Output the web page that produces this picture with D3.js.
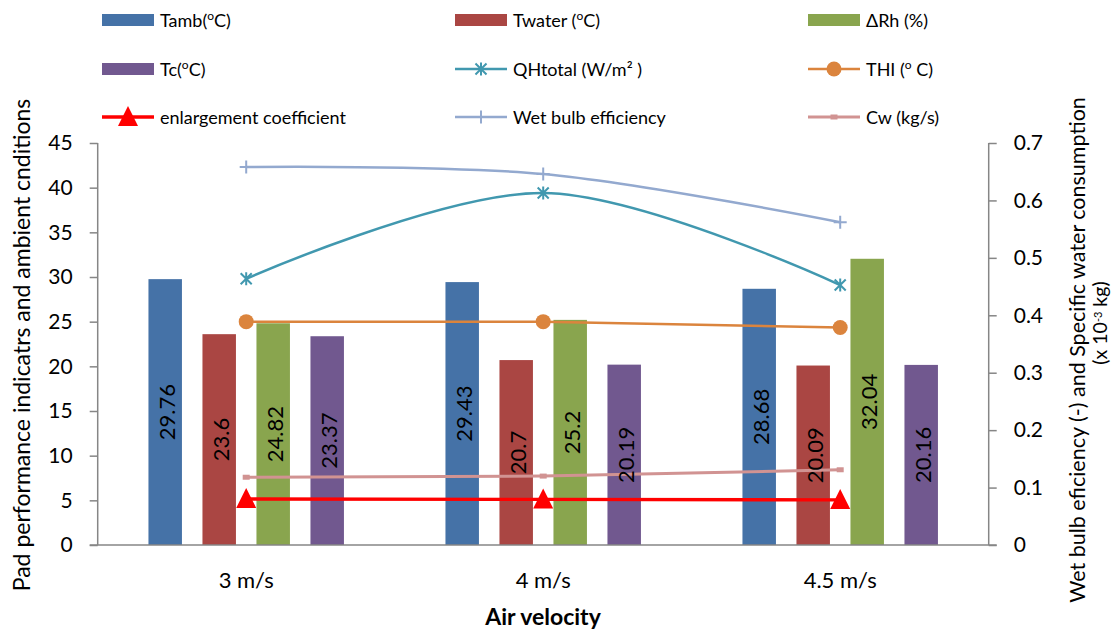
<!DOCTYPE html>
<html>
<head>
<meta charset="utf-8">
<script src="https://cdn.jsdelivr.net/npm/d3@7"></script>
<style>
  html, body { margin: 0; padding: 0; background: #ffffff; }
  svg { display: block; font-family: Lato, "Open Sans", sans-serif; }
</style>
</head>
<body>
<svg id="chart" width="1114" height="632"></svg>
<script>
// Categories and tick values
const categories = ["3 m/s", "4 m/s", "4.5 m/s"];
const leftTicks = [0, 5, 10, 15, 20, 25, 30, 35, 40, 45];
const rightTicks = [0, 0.1, 0.2, 0.3, 0.4, 0.5, 0.6, 0.7];

// Bar series (left axis)
const tamb = [29.76, 29.43, 28.68];
const twater = [23.6, 20.7, 20.09];
const deltaRh = [24.82, 25.2, 32.04];
const tc = [23.37, 20.19, 20.16];

// Line series on the left axis
const qhTotal = [29.8, 39.4, 29.1];
const thi = [25.0, 25.0, 24.35];
const enlargement = [5.15, 5.1, 5.05];

// Line series on the right axis
const wetBulb = [0.658, 0.646, 0.562];
const cw = [0.118, 0.120, 0.131];

const svg = d3.select("#chart");
const plot = { left: 97.7, right: 988.7, top: 143, bottom: 545 };

const x = d3.scaleBand().domain(categories).range([plot.left, plot.right]).padding(0);
const yL = d3.scaleLinear().domain([0, 45]).range([plot.bottom, plot.top]);
const yR = d3.scaleLinear().domain([0, 0.7]).range([plot.bottom, plot.top]);

const barSeries = [
  { key: "tamb", values: tamb, color: "#4572A7" },
  { key: "twater", values: twater, color: "#AA4643" },
  { key: "drh", values: deltaRh, color: "#89A54E" },
  { key: "tc", values: tc, color: "#71588F" }
];
const xs = d3.scaleBand().domain(barSeries.map(d => d.key)).range([-108, 108])
  .paddingInner(0.38).paddingOuter(0.19);

const cx = c => x(c) + x.bandwidth() / 2;

// Axes
const axisColor = "#868686";
const gL = svg.append("g").attr("transform", `translate(${plot.left},0)`)
  .call(d3.axisLeft(yL).tickValues(leftTicks).tickSize(8).tickPadding(17).tickFormat(d3.format("d")));
const gR = svg.append("g").attr("transform", `translate(${plot.right},0)`)
  .call(d3.axisRight(yR).tickValues(rightTicks).tickSize(8).tickPadding(17).tickFormat(d => d === 0 ? "0" : d3.format(".1f")(d)));
[gL, gR].forEach(g => {
  g.select(".domain").remove();
  g.selectAll(".tick line").attr("stroke", axisColor).attr("stroke-width", 1.5);
  g.selectAll(".tick text").attr("font-size", 21).attr("fill", "#000").attr("font-family", "Lato, sans-serif");
});
svg.append("line").attr("x1", plot.left).attr("x2", plot.left).attr("y1", plot.top).attr("y2", plot.bottom)
  .attr("stroke", axisColor).attr("stroke-width", 1.5);
svg.append("line").attr("x1", plot.right).attr("x2", plot.right).attr("y1", plot.top).attr("y2", plot.bottom)
  .attr("stroke", axisColor).attr("stroke-width", 1.5);

// Bars
const barG = svg.append("g");
barSeries.forEach(s => {
  barG.selectAll(null).data(categories).enter().append("rect")
    .attr("x", (c) => cx(c) + xs(s.key))
    .attr("width", xs.bandwidth())
    .attr("y", (c, i) => yL(s.values[i]))
    .attr("height", (c, i) => yL(0) - yL(s.values[i]))
    .attr("fill", s.color);
});

// Category axis line and labels
svg.append("line").attr("x1", plot.left - 8).attr("x2", plot.right + 8).attr("y1", plot.bottom).attr("y2", plot.bottom)
  .attr("stroke", axisColor).attr("stroke-width", 1.5);
svg.selectAll(".cat").data(categories).enter().append("text")
  .attr("x", c => cx(c)).attr("y", 588).attr("text-anchor", "middle")
  .attr("font-size", 22).text(c => c);

// Marker shapes
function drawMarker(g, type, px, py, color) {
  if (type === "circle") {
    g.append("circle").attr("cx", px).attr("cy", py).attr("r", 7.5).attr("fill", color);
  } else if (type === "triangle") {
    g.append("path").attr("d", `M${px},${py - 11}L${px + 10},${py + 9}L${px - 10},${py + 9}Z`).attr("fill", color);
  } else if (type === "star") {
    const r = 6.5;
    g.append("path").attr("d",
      `M${px},${py - r}V${py + r}M${px - r * 0.85},${py - r * 0.85}L${px + r * 0.85},${py + r * 0.85}M${px - r * 0.85},${py + r * 0.85}L${px + r * 0.85},${py - r * 0.85}`)
      .attr("stroke", color).attr("stroke-width", 2).attr("fill", "none");
  } else if (type === "plus") {
    const r = 6.5;
    g.append("path").attr("d", `M${px},${py - r}V${py + r}M${px - r},${py}H${px + r}`)
      .attr("stroke", color).attr("stroke-width", 2).attr("fill", "none");
  } else if (type === "square") {
    g.append("rect").attr("x", px - 3.5).attr("y", py - 2.5).attr("width", 7).attr("height", 5).attr("fill", color);
  }
}

const lineSeries = [
  { name: "wet", values: wetBulb, scale: yR, color: "#93A9CF", width: 2.5, marker: "plus", curve: d3.curveCatmullRom },
  { name: "qh", values: qhTotal, scale: yL, color: "#4198AF", width: 2.5, marker: "star", curve: d3.curveCatmullRom },
  { name: "thi", values: thi, scale: yL, color: "#DB843D", width: 2.5, marker: "circle", curve: d3.curveLinear },
  { name: "cw", values: cw, scale: yR, color: "#D19392", width: 3, marker: "square", curve: d3.curveLinear },
  { name: "enl", values: enlargement, scale: yL, color: "#FF0000", width: 3.3, marker: "triangle", curve: d3.curveLinear }
];

const lineG = svg.append("g");
lineSeries.forEach(s => {
  const pts = categories.map((c, i) => [cx(c), s.scale(s.values[i])]);
  lineG.append("path").attr("d", d3.line().curve(s.curve)(pts))
    .attr("fill", "none").attr("stroke", s.color).attr("stroke-width", s.width);
  pts.forEach(p => drawMarker(lineG, s.marker, p[0], p[1], s.color));
});

// Value labels inside the bars
barSeries.forEach(s => {
  categories.forEach((c, i) => {
    const bx = cx(c) + xs(s.key) + xs.bandwidth() / 2;
    const by = (yL(s.values[i]) + yL(0)) / 2;
    svg.append("text")
      .attr("transform", `translate(${bx + 1},${by}) rotate(-90)`)
      .attr("text-anchor", "middle").attr("dominant-baseline", "central")
      .attr("font-size", 22).attr("fill", "#000")
      .text(String(s.values[i]));
  });
});

// Legend
const legendItems = [
  { label: ["Tamb(", "o", "C)"], kind: "bar", color: "#4572A7" },
  { label: ["Twater (", "o", "C)"], kind: "bar", color: "#AA4643" },
  { label: ["ΔRh (%)"], kind: "bar", color: "#89A54E" },
  { label: ["Tc(", "o", "C)"], kind: "bar", color: "#71588F" },
  { label: ["QHtotal (W/m² )"], kind: "line", series: "qh" },
  { label: ["THI (", "o", " C)"], kind: "line", series: "thi" },
  { label: ["enlargement coefficient"], kind: "line", series: "enl" },
  { label: ["Wet bulb efficiency"], kind: "line", series: "wet" },
  { label: ["Cw (kg/s)"], kind: "line", series: "cw" }
];
const colX = [102, 455, 808];
const rowY = [20, 69, 117];
const legG = svg.append("g");
legendItems.forEach((item, i) => {
  const lx = colX[i % 3], ly = rowY[Math.floor(i / 3)];
  if (item.kind === "bar") {
    legG.append("rect").attr("x", lx).attr("y", ly - 6).attr("width", 52).attr("height", 12).attr("fill", item.color);
  } else {
    const s = lineSeries.find(d => d.name === item.series);
    legG.append("line").attr("x1", lx).attr("x2", lx + 52).attr("y1", ly).attr("y2", ly)
      .attr("stroke", s.color).attr("stroke-width", s.width);
    drawMarker(legG, s.marker, lx + 26, ly, s.color);
  }
  const t = legG.append("text").attr("x", lx + 58).attr("y", ly + 6.5).attr("font-size", 18).attr("fill", "#000");
  item.label.forEach((part, k) => {
    if (item.label.length > 1 && k === 1) {
      t.append("tspan").attr("font-size", 12).attr("dy", -7).text(part);
    } else if (item.label.length > 1 && k === 2) {
      t.append("tspan").attr("dy", 7).text(part);
    } else {
      t.append("tspan").text(part);
    }
  });
});

// Axis titles
svg.append("text").attr("transform", "translate(30,345) rotate(-90)")
  .attr("text-anchor", "middle").attr("font-size", 23).attr("fill", "#000")
  .text("Pad performance indicatrs and ambient cnditions");

svg.append("text").attr("x", 543).attr("y", 625).attr("text-anchor", "middle")
  .attr("font-size", 23).attr("font-weight", "bold").attr("fill", "#000")
  .text("Air velocity");

svg.append("text").attr("transform", "translate(1085,350) rotate(-90)")
  .attr("text-anchor", "middle").attr("font-size", 21.5).attr("fill", "#000")
  .text("Wet bulb eficiency (-) and Specific water consumption");
const r2 = svg.append("text").attr("transform", "translate(1107,323) rotate(-90)")
  .attr("text-anchor", "middle").attr("font-size", 19.5).attr("fill", "#000");
r2.append("tspan").text("(x 10");
r2.append("tspan").attr("font-size", 11).attr("dy", -5).text("-3");
r2.append("tspan").attr("dy", 5).text(" kg)");
</script>
</body>
</html>
